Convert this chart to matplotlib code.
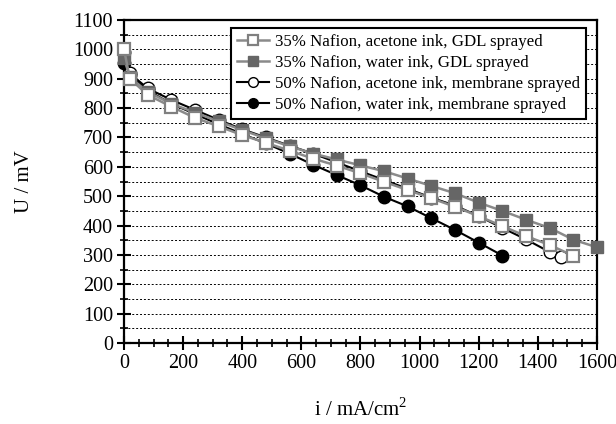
import numpy as np
import matplotlib
matplotlib.use('Agg')
import matplotlib.pyplot as plt
from matplotlib.ticker import MultipleLocator

plt.rcParams['font.family'] = ['Liberation Serif', 'DejaVu Serif']
plt.rcParams['mathtext.fontset'] = 'custom'
plt.rcParams['mathtext.rm'] = 'Liberation Serif'

# 35% Nafion, acetone ink, GDL sprayed
i_a = [0, 20, 80, 160, 240, 320, 400, 480, 560, 640, 720, 800, 880, 960, 1040, 1120, 1200, 1280, 1360, 1440, 1520]
u_a = [1000, 900, 845, 805, 767, 738, 708, 682, 655, 628, 604, 578, 549, 521, 493, 464, 432, 398, 364, 334, 297]
# 35% Nafion, water ink, GDL sprayed
i_b = [0, 20, 80, 160, 240, 320, 400, 480, 560, 640, 720, 800, 880, 960, 1040, 1120, 1200, 1280, 1360, 1440, 1520, 1600]
u_b = [970, 905, 855, 815, 785, 755, 725, 697, 670, 645, 625, 605, 585, 560, 535, 510, 478, 450, 420, 392, 352, 326]
# 50% Nafion, acetone ink, membrane sprayed
i_c = [0, 20, 80, 160, 240, 320, 400, 480, 560, 640, 720, 800, 880, 960, 1040, 1120, 1200, 1280, 1360, 1440, 1480]
u_c = [990, 918, 867, 828, 794, 760, 728, 700, 672, 645, 615, 585, 555, 525, 495, 468, 432, 392, 353, 310, 292]
# 50% Nafion, water ink, membrane sprayed
i_d = [0, 20, 80, 160, 240, 320, 400, 480, 560, 640, 720, 800, 880, 960, 1040, 1120, 1200, 1280]
u_d = [955, 912, 860, 815, 780, 745, 712, 680, 645, 607, 572, 537, 498, 465, 425, 385, 342, 298]

fig = plt.figure(figsize=(6.16, 4.24), dpi=100)
ax = fig.add_axes([0.2013, 0.191, 0.7677, 0.7618])

ms = 9
ax.plot(i_d, u_d, '-o', color='black', mfc='black', mec='black', ms=ms, lw=1.5, zorder=3,
        clip_on=False, label='50% Nafion, water ink, membrane sprayed')
ax.plot(i_c, u_c, '-o', color='black', mfc='white', mec='black', ms=ms, lw=1.5, zorder=4,
        clip_on=False, label='50% Nafion, acetone ink, membrane sprayed')
ax.plot(i_b, u_b, '-s', color='#8a8a8a', mfc='#666666', mec='#666666', ms=ms, lw=1.8, zorder=5,
        clip_on=False, label='35% Nafion, water ink, GDL sprayed')
ax.plot(i_a, u_a, '-s', color='#8a8a8a', mfc='white', mec='#808080', mew=1.6, ms=ms, lw=1.8, zorder=6,
        clip_on=False, label='35% Nafion, acetone ink, GDL sprayed')

ax.set_xlim(0, 1600)
ax.set_ylim(0, 1100)
ax.xaxis.set_major_locator(MultipleLocator(200))
ax.xaxis.set_minor_locator(MultipleLocator(50))
ax.yaxis.set_major_locator(MultipleLocator(100))
ax.yaxis.set_minor_locator(MultipleLocator(50))
ax.tick_params(which='major', direction='inout', length=10, width=1.5, labelsize=14.5, pad=3)
ax.tick_params(which='minor', direction='inout', length=6, width=1.2)
ax.grid(axis='y', which='both', color='black', linestyle=(0, (2, 2)), lw=0.7, zorder=0)
for s in ax.spines.values():
    s.set_linewidth(1.6)

ax.set_xlabel('i / mA/cm$^2$', fontsize=15, labelpad=18)
ax.set_ylabel('U / mV', fontsize=15, labelpad=28)

h, l = ax.get_legend_handles_labels()
leg = ax.legend(h[::-1], l[::-1], loc='upper right', bbox_to_anchor=(0.985, 0.985), fontsize=12.2,
                frameon=True, fancybox=False, framealpha=1, edgecolor='black',
                handlelength=1.9, handletextpad=0.4, borderpad=0.35, labelspacing=0.3,
                borderaxespad=0.2)
leg.get_frame().set_linewidth(1.5)
for lh in leg.legend_handles:
    lh.set_markersize(7)

fig.savefig('out.png', dpi=100)
